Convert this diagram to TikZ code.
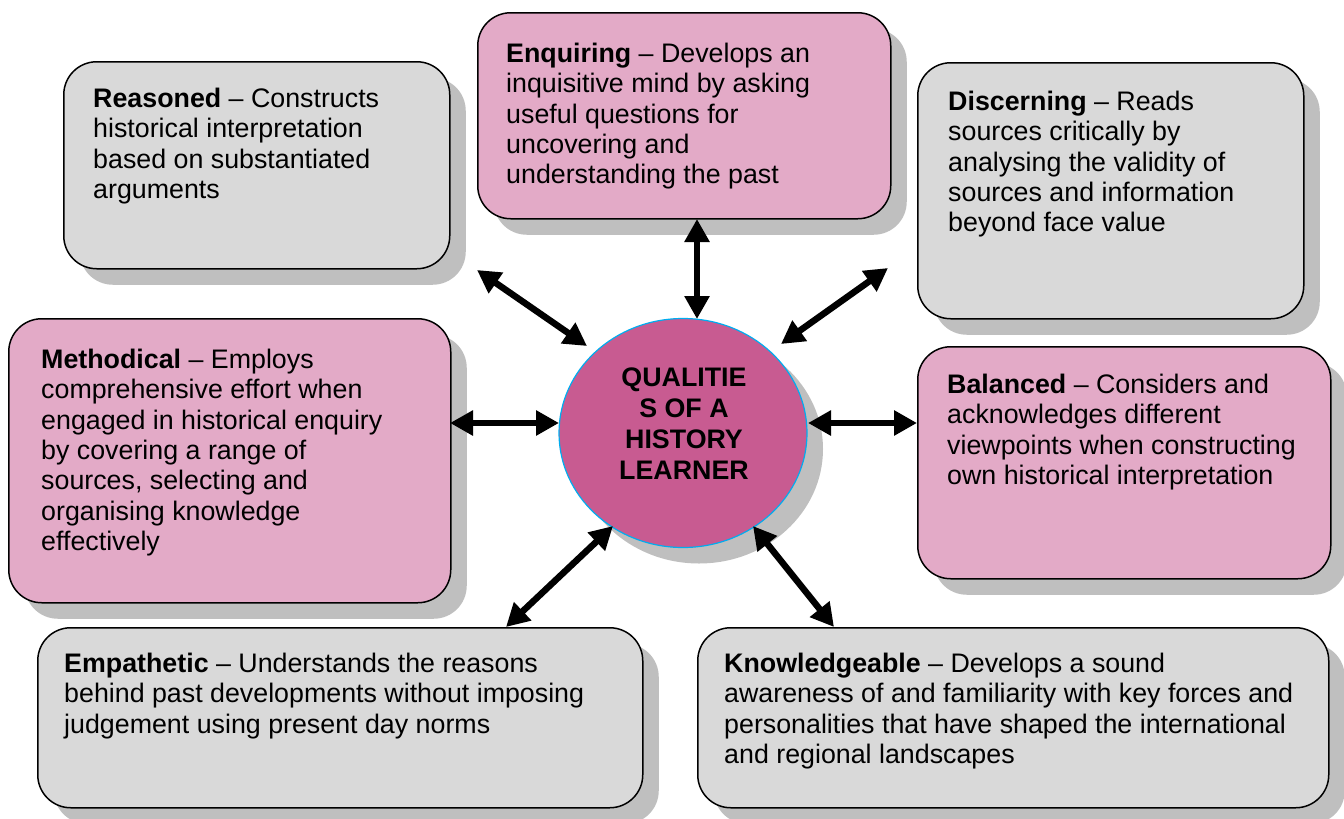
\documentclass[tikz,border=0pt]{standalone}
\usepackage{fontspec}
\setmainfont{Liberation Sans}
\usetikzlibrary{arrows.meta,shadows,shapes.geometric}
\definecolor{boxgray}{HTML}{D9D9D9}
\definecolor{boxpink}{HTML}{E3AAC7}
\definecolor{hubcol}{HTML}{C85B91}
\definecolor{shadecol}{HTML}{BFBFBF}
\begin{document}
\begin{tikzpicture}[x=1pt,y=-1pt,
  card/.style={draw=black, line width=1.5pt, rounded corners=33pt, inner sep=0pt, anchor=north west,
    drop shadow={shadow xshift=16pt, shadow yshift=-16pt, fill=shadecol, opacity=1}},
  graycard/.style={card, fill=boxgray},
  pinkcard/.style={card, fill=boxpink},
  desc/.style={anchor=north west, inner sep=0pt, align=left, font=\fontsize{26.8pt}{30.3pt}\selectfont},
  link/.style={line width=6.5pt, {Triangle[length=23pt,width=24pt]}-{Triangle[length=23pt,width=24pt]}}]
\useasboundingbox (0,0) rectangle (1344,819);
% boxes
\node[graycard, minimum width=386pt, minimum height=207pt] (reasoned) at (63,61) {};
\node[pinkcard, minimum width=413pt, minimum height=206pt] (enquiring) at (477,12) {};
\node[graycard, minimum width=386pt, minimum height=256pt] (discerning) at (917,62) {};
\node[pinkcard, minimum width=442pt, minimum height=284pt] (methodical) at (8,318) {};
\node[pinkcard, minimum width=413pt, minimum height=232pt] (balanced) at (917,346) {};
\node[graycard, minimum width=605pt, minimum height=180pt] (empathetic) at (37,627) {};
\node[graycard, minimum width=631pt, minimum height=180pt] (knowledge) at (697,627) {};
% centre
\node[ellipse, draw=cyan, line width=1.2pt, fill=hubcol, minimum width=248pt, minimum height=229pt, inner sep=0pt,
  drop shadow={shadow xshift=16pt, shadow yshift=-16pt, fill=shadecol, opacity=1}] (hub) at (683,433) {};
\node[anchor=north, inner sep=0pt, align=center, font=\fontsize{26.8pt}{30.7pt}\selectfont\bfseries] (hubtext) at (684,368)
  {QUALITIE\\S OF A\\HISTORY\\LEARNER};
% texts
\node[desc] (treasoned) at (93,88) {\textbf{Reasoned} – Constructs\\historical interpretation\\based on substantiated\\arguments};
\node[desc] (tenquiring) at (506,43) {\textbf{Enquiring} – Develops an\\inquisitive mind by asking\\useful questions for\\uncovering and\\understanding the past};
\node[desc] (tdiscerning) at (948,91) {\textbf{Discerning} – Reads\\sources critically by\\analysing the validity of\\sources and information\\beyond face value};
\node[desc] (tmethodical) at (41,349) {\textbf{Methodical} – Employs\\comprehensive effort when\\engaged in historical enquiry\\by covering a range of\\sources, selecting and\\organising knowledge\\effectively};
\node[desc] (tbalanced) at (947,374) {\textbf{Balanced} – Considers and\\acknowledges different\\viewpoints when constructing\\own historical interpretation};
\node[desc] (tempathetic) at (64,653) {\textbf{Empathetic} – Understands the reasons\\behind past developments without imposing\\judgement using present day norms};
\node[desc] (tknowledge) at (724,653) {\textbf{Knowledgeable} – Develops a sound\\awareness of and familiarity with key forces and\\personalities that have shaped the international\\and regional landscapes};
% arrow ends
\coordinate (a1) at (697,219); \coordinate (b1) at (697,319);
\coordinate (a2) at (477,270); \coordinate (b2) at (587,346);
\coordinate (a3) at (888,268); \coordinate (b3) at (781,344);
\coordinate (a4) at (450,423); \coordinate (b4) at (559,423);
\coordinate (a5) at (917,423); \coordinate (b5) at (808,423);
\coordinate (a6) at (506,627); \coordinate (b6) at (613,526);
\coordinate (a7) at (834,627); \coordinate (b7) at (753,526);
\foreach \i in {1,...,7} \draw[link] (a\i) -- (b\i);
\end{tikzpicture}
\end{document}
